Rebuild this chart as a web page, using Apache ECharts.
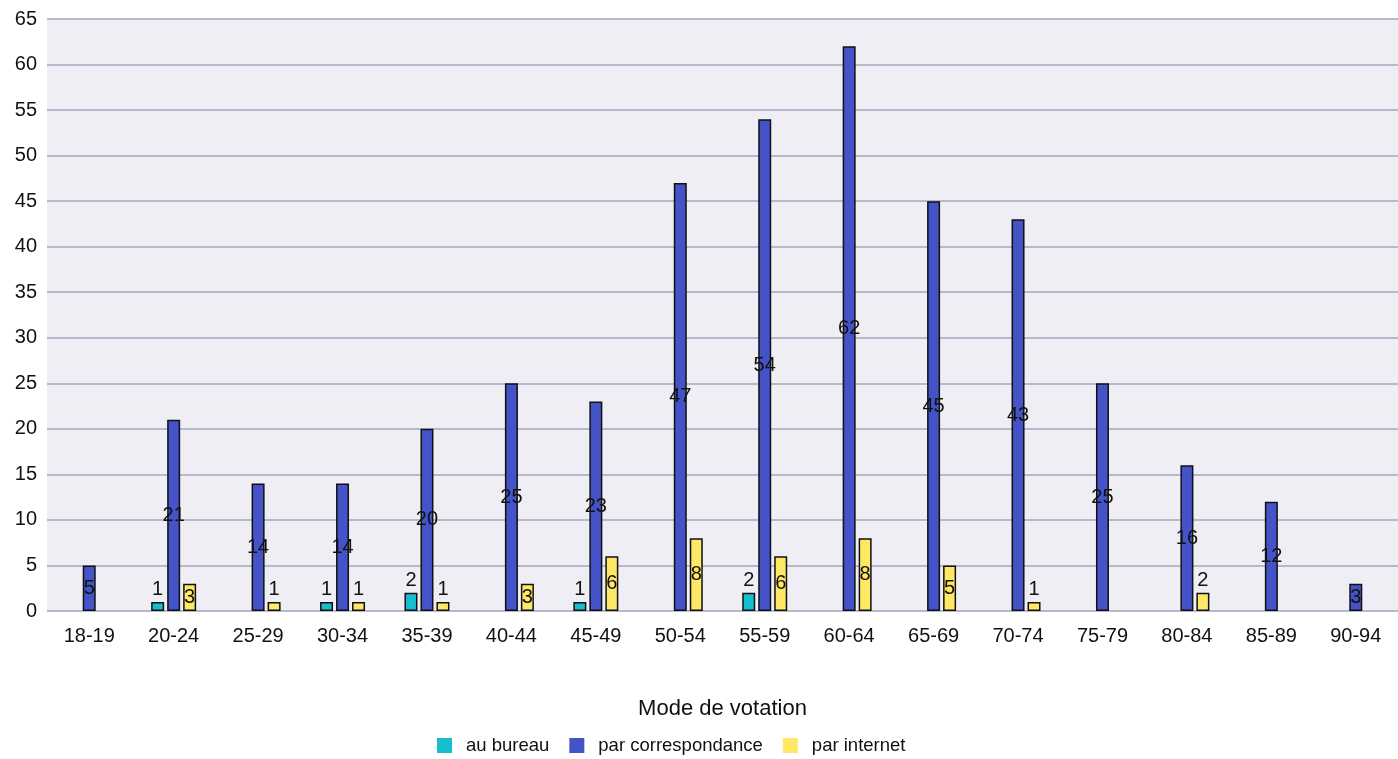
<!DOCTYPE html>
<html><head><meta charset="utf-8">
<script src="https://cdn.jsdelivr.net/npm/echarts@6/dist/echarts.min.js"></script>
<style>html,body{margin:0;padding:0;background:#fff}#c{width:1398px;height:759px}</style>
</head><body><div id="c"></div>
<script>
const categories = ['18-19','20-24','25-29','30-34','35-39','40-44','45-49','50-54','55-59','60-64','65-69','70-74','75-79','80-84','85-89','90-94'];
const auBureau = [null,1,null,1,2,null,1,null,2,null,null,null,null,null,null,null];
const parCorrespondance = [5,21,14,14,20,25,23,47,54,62,45,43,25,16,12,3];
const parInternet = [null,3,1,1,1,3,6,8,6,8,5,1,null,2,null,null];
const seriesNames = ['au bureau','par correspondance','par internet'];
const colors = ['#16bed0','#4453c8','#ffe866'];
const yTicks = {min:0, max:65, interval:5};

function mk(vals){
  return vals.map(v => v == null ? null : {
    value: v,
    label: {position: v <= 2 ? 'top' : 'inside', distance: 2}
  });
}
const chart = echarts.init(document.getElementById('c'));
const data = [auBureau, parCorrespondance, parInternet];
chart.setOption({
  animation:false,
  textStyle:{fontFamily:'Liberation Sans, Arial, sans-serif'},
  grid:{left:47, right:-6, top:19, bottom:148, show:true, backgroundColor:'#efeef4', borderWidth:0},
  legend:{bottom:4, left:437, padding:0, itemWidth:15, itemHeight:15, itemGap:20,
    icon:'rect', itemStyle:{borderWidth:0},
    textStyle:{fontSize:18.5, color:'#111', padding:[0,0,0,9]},
    data:seriesNames},
  xAxis:{type:'category', data:categories,
    name:'Mode de votation', nameLocation:'middle', nameGap:87,
    nameTextStyle:{fontSize:22, color:'#111'},
    axisLine:{show:false}, axisTick:{show:false},
    axisLabel:{fontSize:20, color:'#111', margin:15}},
  yAxis:{type:'value', min:yTicks.min, max:yTicks.max, interval:yTicks.interval,
    axisLine:{show:false}, axisTick:{show:false},
    axisLabel:{fontSize:20, color:'#111', margin:10},
    splitLine:{lineStyle:{color:'#b8b8cc', width:2}}},
  series: data.map((d,i)=>({
    name:seriesNames[i], type:'bar', data:mk(d),
    barWidth:13, barGap:'23%',
    itemStyle:{color:colors[i], borderColor:'#111', borderWidth:1.5},
    label:{show:true, fontSize:20, color:'#111'}
  }))
});
</script></body></html>
